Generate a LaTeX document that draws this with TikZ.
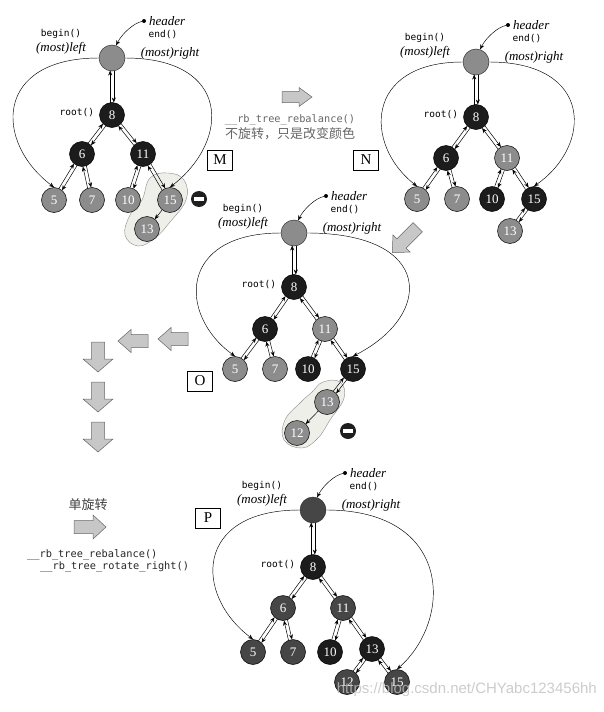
\documentclass[tikz,border=0pt]{standalone}
\usepackage{fontspec}
\setmainfont{Liberation Serif}
\setmonofont{DejaVu Sans Mono}
\newfontfamily\cjkf{Noto Sans CJK SC}
\newfontfamily\wmf{Liberation Sans}
\usetikzlibrary{calc,arrows.meta}
\definecolor{ngray}{HTML}{8C8C8C}
\definecolor{nblack}{HTML}{1C1C1C}
\definecolor{ndark}{HTML}{464646}
\definecolor{blobc}{HTML}{EFEFEA}
\tikzset{
  rbn/.style={circle, draw=black, line width=0.5pt, minimum size=25pt, inner sep=0pt,
    font=\fontsize{13}{13}\selectfont, text=white},
  gnode/.style={rbn, fill=ngray},
  bnode/.style={rbn, fill=nblack},
  dnode/.style={rbn, fill=ndark},
  hdr/.style={circle, draw=black!80, line width=0.5pt, minimum size=26pt, inner sep=0pt},
  hdot/.style={circle, fill=black, minimum size=4pt, inner sep=0pt},
  lk/.style={-{Stealth[length=5pt,width=4pt]}, line width=0.5pt},
  curv/.style={-{Stealth[length=5pt,width=4pt]}, line width=0.45pt},
  mono/.style={font=\ttfamily\fontsize{9.5}{10}\selectfont, inner sep=0pt},
  ital/.style={font=\itshape\fontsize{13}{13}\selectfont, inner sep=0pt},
  lblbox/.style={draw, line width=0.5pt, minimum width=25pt, minimum height=20pt, inner sep=0pt,
    font=\fontsize{15}{15}\selectfont},
  blob/.style={draw=black!45, line width=0.4pt, fill=blobc},
  fat/.style={draw=black!60, line width=0.5pt, fill=black!22},
  minus/.style={circle, fill=black!88, minimum size=16pt, inner sep=0pt,
    path picture={\fill[white] ([xshift=-5pt,yshift=-1.6pt]path picture bounding box.center)
      rectangle ([xshift=5pt,yshift=1.6pt]path picture bounding box.center);}},
  gtxt/.style={inner sep=0pt, text=black!60}
}
\newcommand\lnk[2]{%
  \draw[lk] ($(#1)!12.5pt!(#2)!1.8pt!90:(#2)$) -- ($(#2)!12.5pt!(#1)!1.8pt!-90:(#1)$);
  \draw[lk] ($(#2)!12.5pt!(#1)!1.8pt!90:(#1)$) -- ($(#1)!12.5pt!(#2)!1.8pt!-90:(#2)$);}
\newcommand\lnkone[2]{%
  \draw[lk] ($(#1)!12.5pt!(#2)$) -- ($(#2)!12.5pt!(#1)$);}
\newcommand\hgroup[4]{%
  \node[hdr, fill=#4] (#1) at (#2,#3) {};
  \node[hdot] (#1d) at (#2+32,#3+37) {};
  \node[ital, anchor=west] (#1t) at (#2+37,#3+37) {header};
  \node[mono] (#1e) at (#2+51,#3+23) {end()};
  \node[mono] (#1b) at (#2-51,#3+24) {begin()};
  \node[ital] (#1l) at (#2-51,#3+9.5) {(most)left};
  \node[ital] (#1r) at (#2+58,#3+5) {(most)right};
  \draw[curv] (#1d) .. controls +(-10,-2) and +(6,12) .. (#1.72);}
\newcommand\rootlbl[2]{%
  \node[mono, anchor=east] (#2) at ($(#1.west)+(-5,2)$) {root()};}
\newcommand\fatarrow[6]{% x y angle length shafthalf headhalf
  \begin{scope}[shift={(#1,#2)}, rotate=#3]
    \draw[fat] (-#4/2,-#5) -- (#4/2-13,-#5) -- (#4/2-13,-#6) -- (#4/2,0)
      -- (#4/2-13,#6) -- (#4/2-13,#5) -- (-#4/2,#5) -- cycle;
  \end{scope}}
\begin{document}
\begin{tikzpicture}[x=1pt,y=1pt]
\useasboundingbox (0,0) rectangle (604,-712);

% ---------- blobs ----------
\draw[blob] plot[smooth cycle, tension=0.7] coordinates {(150,-178) (168,-173) (184,-180) (186,-200) (170,-222) (155,-238) (138,-246) (125,-235) (130,-215) (142,-200)};
\draw[blob] plot[smooth cycle, tension=0.7] coordinates {(323,-382) (340,-382) (344,-398) (330,-420) (318,-438) (302,-448) (284,-440) (285,-420) (300,-403) (312,-392)};

% ---------- tree M ----------
\hgroup{hM}{112}{-58}{ngray}
\node[bnode] (m8) at (112,-115) {8};
\node[bnode] (m6) at (82,-154) {6};
\node[bnode] (m11) at (143,-154) {11};
\node[gnode] (m5) at (54,-200) {5};
\node[gnode] (m7) at (92,-200) {7};
\node[gnode] (m10) at (128,-200) {10};
\node[gnode] (m15) at (170,-200) {15};
\node[gnode] (m13) at (147,-229) {13};
\rootlbl{m8}{mroot}
\lnk{hM}{m8}\lnk{m8}{m6}\lnk{m8}{m11}\lnk{m6}{m5}\lnk{m6}{m7}
\lnk{m11}{m10}\lnk{m11}{m15}\lnkone{m15}{m13}
\draw[curv] (hM.west) .. controls (-6,-58) and (-6,-142) .. (m5.north);
\draw[curv] (hM.east) .. controls (231,-58) and (231,-140) .. (m15.north);
\node[minus] (mminus) at (199,-199) {};
\node[lblbox] (lM) at (220,-160) {M};

% ---------- arrow M -> N ----------
\fatarrow{297}{-97}{0}{30}{5.5}{9.5}
\node[gtxt, font=\ttfamily\fontsize{10.3}{11}\selectfont] (t1) at (290,-120) {\_\_rb\_tree\_rebalance()};
\node[gtxt, font=\cjkf\fontsize{13}{14}\selectfont] (t2) at (290,-134) {不旋转，只是改变颜色};
\node[lblbox] (lN) at (366,-160) {N};

% ---------- tree N ----------
\hgroup{hN}{476}{-62}{ngray}
\node[bnode] (n8) at (476,-117) {8};
\node[bnode] (n6) at (446,-158) {6};
\node[gnode] (n11) at (507,-158) {11};
\node[gnode] (n5) at (417,-199) {5};
\node[gnode] (n7) at (457,-199) {7};
\node[bnode] (n10) at (492,-199) {10};
\node[bnode] (n15) at (534,-199) {15};
\node[gnode] (n13) at (510,-231) {13};
\rootlbl{n8}{nroot}
\lnk{hN}{n8}\lnk{n8}{n6}\lnk{n8}{n11}\lnk{n6}{n5}\lnk{n6}{n7}
\lnk{n11}{n10}\lnk{n11}{n15}\lnk{n15}{n13}
\draw[curv] (hN.west) .. controls (364,-62) and (364,-145) .. (n5.north);
\draw[curv] (hN.east) .. controls (593,-62) and (593,-145) .. (n15.north);

% ---------- arrow N -> O ----------
\fatarrow{405}{-240}{225}{36}{6.5}{12}

% ---------- tree O ----------
\hgroup{hO}{294}{-233}{ngray}
\node[bnode] (o8) at (294,-287) {8};
\node[bnode] (o6) at (265,-329) {6};
\node[gnode] (o11) at (325,-329) {11};
\node[gnode] (o5) at (235,-369) {5};
\node[gnode] (o7) at (275,-369) {7};
\node[bnode] (o10) at (308,-369) {10};
\node[bnode] (o15) at (353,-369) {15};
\node[gnode] (o13) at (327,-402) {13};
\node[gnode] (o12) at (297,-433) {12};
\rootlbl{o8}{oroot}
\lnk{hO}{o8}\lnk{o8}{o6}\lnk{o8}{o11}\lnk{o6}{o5}\lnk{o6}{o7}
\lnk{o11}{o10}\lnk{o11}{o15}\lnk{o15}{o13}\lnkone{o13}{o12}
\draw[curv] (hO.west) .. controls (178,-233) and (178,-315) .. (o5.north);
\draw[curv] (hO.east) .. controls (434,-233) and (434,-315) .. (o15.north);
\node[minus] (ominus) at (348,-431) {};
\node[lblbox] (lO) at (200,-381) {O};

% ---------- arrows O -> P ----------
\fatarrow{173}{-339}{180}{30}{6.5}{11.5}
\fatarrow{133}{-341}{180}{30}{6.5}{11.5}
\fatarrow{98}{-357}{-90}{30}{6.5}{15}
\fatarrow{98}{-397}{-90}{30}{6.5}{15}
\fatarrow{98}{-437}{-90}{30}{6.5}{15}
\node[inner sep=0pt, text=black!75, font=\cjkf\fontsize{13}{14}\selectfont] (t3) at (88,-505) {单旋转};
\fatarrow{90}{-527}{0}{32}{6.5}{12}
\node[inner sep=0pt, anchor=west, text=black!85, font=\ttfamily\fontsize{10.3}{11}\selectfont] (t4) at (27,-555) {\_\_rb\_tree\_rebalance()};
\node[inner sep=0pt, anchor=west, text=black!85, font=\ttfamily\fontsize{10.3}{11}\selectfont] (t5) at (40,-567) {\_\_rb\_tree\_rotate\_right()};
\node[lblbox] (lP) at (208,-518) {P};

% ---------- tree P ----------
\hgroup{hP}{313}{-510}{ndark}
\node[bnode] (p8) at (313,-567) {8};
\node[dnode] (p6) at (283,-608) {6};
\node[dnode] (p11) at (343,-608) {11};
\node[dnode] (p5) at (253,-652) {5};
\node[dnode] (p7) at (293,-652) {7};
\node[bnode] (p10) at (330,-652) {10};
\node[bnode] (p13) at (372,-649) {13};
\node[dnode] (p12) at (347,-682) {12};
\node[dnode] (p15) at (397,-682) {15};
\rootlbl{p8}{proot}
\lnk{hP}{p8}\lnk{p8}{p6}\lnk{p8}{p11}\lnk{p6}{p5}\lnk{p6}{p7}
\lnk{p11}{p10}\lnk{p11}{p13}\lnk{p13}{p12}\lnk{p13}{p15}
\draw[curv] (hP.west) .. controls (194,-510) and (194,-595) .. (p5.north);
\draw[curv] (hP.east) .. controls (453,-510) and (453,-620) .. (p15.north);

% ---------- watermark ----------
\node[anchor=east, inner sep=0pt, text=black!25, opacity=0.8, font=\wmf\fontsize{15}{15}\selectfont] (wm) at (597,-690) {https://blog.csdn.net/CHYabc123456hh};
\end{tikzpicture}
\end{document}
